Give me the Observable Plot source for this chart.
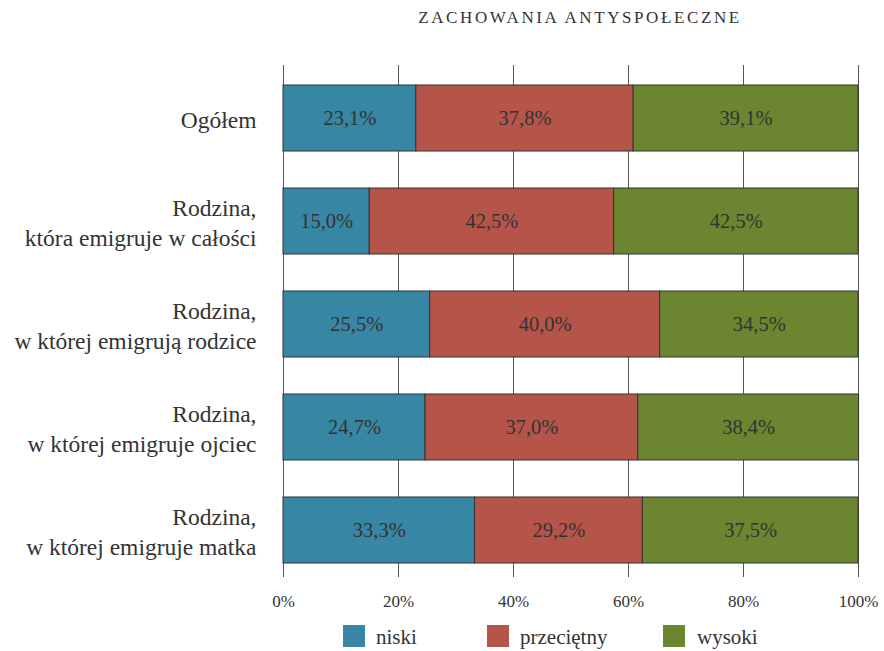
<!DOCTYPE html>
<html><head><meta charset="utf-8">
<script src="https://cdn.jsdelivr.net/npm/d3@7"></script>
<script src="https://cdn.jsdelivr.net/npm/@observablehq/plot@0.6"></script>
<style>
body{margin:0;background:#fff;font-family:"Liberation Serif",serif;color:#333;}
#wrap{position:relative;width:884px;height:651px;}
#title{position:absolute;left:0;top:8px;width:884px;text-align:center;padding-left:276px;box-sizing:border-box;font-size:17px;letter-spacing:2.6px;color:#333;font-family:"Liberation Serif",serif;}
#chart{position:absolute;left:0;top:0;}
#chart svg, #chart svg text{font-family:"Liberation Serif",serif !important;}
.leg{position:absolute;font-size:21px;color:#333;font-family:"Liberation Serif",serif;}
.sw{position:absolute;width:22px;height:22px;}
</style></head>
<body><div id="wrap"><div id="title">ZACHOWANIA ANTYSPOŁECZNE</div><div id="chart"></div><div id="legend"></div></div>
<script>
const categories = ["Ogółem","Rodzina,\nktóra emigruje w całości","Rodzina,\nw której emigrują rodzice","Rodzina,\nw której emigruje ojciec","Rodzina,\nw której emigruje matka"];
const levels = ["niski","przeciętny","wysoki"];
const niski = [23.1,15.0,25.5,24.7,33.3];
const przecietny = [37.8,42.5,40.0,37.0,29.2];
const wysoki = [39.1,42.5,34.5,38.4,37.5];
const xTicks = [0,20,40,60,80,100];
const colors = ["#3786a4","#b5554a","#6b8530"];

const series = [niski, przecietny, wysoki];
const data = [];
categories.forEach((c,i)=>levels.forEach((l,j)=>data.push({cat:c, level:l, value:series[j][i]})));
const fmt = v => v.toFixed(1).replace(".", ",") + "%";
const FF = "Liberation Serif, serif";

const plot = Plot.plot({
  width: 884, height: 620,
  marginLeft: 283, marginRight: 26, marginTop: 65, marginBottom: 43,
  style: {fontFamily: FF, background: "transparent", color: "#333"},
  x: {domain:[0,100], label: null},
  y: {domain: categories, paddingInner: 0.36, paddingOuter: 0, insetTop: 18, insetBottom: 12, label: null},
  color: {domain: levels, range: colors},
  marks: [
    Plot.ruleX(xTicks, {stroke: "#555", strokeWidth: 1}),
    Plot.barX(data, Plot.stackX({x: "value", y: "cat", z: "level", fill: "level", stroke: "#333", strokeWidth: 1})),
    Plot.text(data, Plot.stackX({x: "value", y: "cat", z: "level", text: d => fmt(d.value), fill: "#333", fontSize: 20.5, fontFamily: FF})),
    Plot.axisX({ticks: xTicks, tickFormat: d => d + "%", tickSize: 0, tickPadding: 17, fontSize: 17, fontFamily: FF, label: null}),
    Plot.axisY({tickSize: 0, tickPadding: 27, fontSize: 23.5, lineHeight: 1.27, fontFamily: FF, label: null})
  ]
});
document.getElementById("chart").appendChild(plot);

const legPos = [[343,376],[487,520],[663,697]];
const leg = document.getElementById("legend");
levels.forEach((l,i)=>{
  const s = document.createElement("div"); s.className="sw";
  s.style.left = legPos[i][0]+"px"; s.style.top="625px"; s.style.background = colors[i];
  leg.appendChild(s);
  const t = document.createElement("div"); t.className="leg";
  t.style.left = legPos[i][1]+"px"; t.style.top = "625px"; t.textContent = l;
  leg.appendChild(t);
});
</script></body></html>
